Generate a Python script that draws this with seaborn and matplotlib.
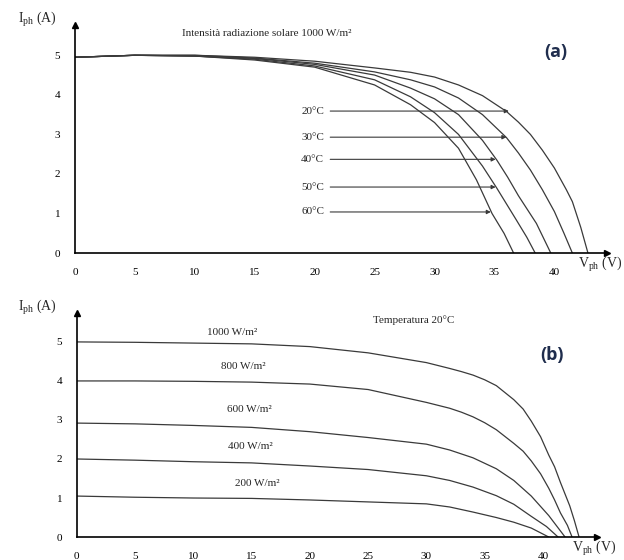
import numpy as np
import pandas as pd
import seaborn as sns
import matplotlib.pyplot as plt

# Panel (a): I-V curves at 1000 W/m2 for different temperatures
temp_labels = ["20°C", "30°C", "40°C", "50°C", "60°C"]
v_20 = [0, 5, 10, 15, 20, 25, 28, 30, 32, 34, 36, 37, 38, 39, 40, 41, 41.5, 42.2, 42.8]
i_20 = [4.95, 5.0, 5.0, 4.95, 4.85, 4.68, 4.57, 4.45, 4.25, 3.98, 3.58, 3.31, 3.0, 2.6, 2.15, 1.6, 1.3, 0.65, 0]
v_30 = [0, 5, 10, 15, 20, 25, 28, 30, 32, 34, 36, 37, 38, 39, 40, 40.8, 41.5]
i_30 = [4.95, 5.0, 5.0, 4.93, 4.8, 4.58, 4.38, 4.2, 3.92, 3.5, 2.92, 2.53, 2.1, 1.6, 1.05, 0.5, 0]
v_40 = [0, 5, 10, 15, 20, 25, 28, 30, 32, 34, 35.2, 36.1, 37, 38.5, 39.7]
i_40 = [4.95, 5.0, 4.98, 4.92, 4.77, 4.5, 4.17, 3.9, 3.5, 2.85, 2.35, 1.92, 1.45, 0.75, 0]
v_50 = [0, 5, 10, 15, 20, 25, 28, 30, 32, 34, 35.2, 36.8, 37.7, 38.4]
i_50 = [4.95, 5.0, 4.98, 4.9, 4.73, 4.38, 3.95, 3.55, 3.0, 2.2, 1.64, 0.85, 0.4, 0]
v_60 = [0, 5, 10, 15, 20, 25, 28, 30, 32, 33.5, 34.8, 35.8, 36.6]
i_60 = [4.95, 5.0, 4.98, 4.88, 4.7, 4.25, 3.75, 3.3, 2.65, 1.85, 1.0, 0.5, 0]
temp_label_i = [3.59, 2.93, 2.37, 1.67, 1.04]
temp_arrow_v = [36.2, 36.0, 35.1, 35.1, 34.7]

# Panel (b): I-V curves at 20°C for different irradiance
irr_labels = ["1000 W/m²", "800 W/m²", "600 W/m²", "400 W/m²", "200 W/m²"]
v_1000 = [0, 5, 10, 15, 20, 25, 30, 32, 33, 34, 35, 36, 37.5, 38.3, 39, 39.8, 40.5, 41, 41.5, 42.3, 42.7, 43.1]
i_1000 = [5.0, 4.99, 4.97, 4.95, 4.88, 4.72, 4.47, 4.32, 4.24, 4.15, 4.03, 3.88, 3.52, 3.28, 2.97, 2.57, 2.1, 1.8, 1.4, 0.8, 0.42, 0]
v_800 = [0, 5, 10, 15, 20, 25, 30, 32, 33, 34, 35, 36, 37.5, 38.3, 39, 39.8, 40.5, 41, 41.5, 42.1, 42.5]
i_800 = [4.0, 4.0, 3.99, 3.97, 3.92, 3.78, 3.45, 3.3, 3.2, 3.08, 2.93, 2.75, 2.4, 2.2, 1.95, 1.62, 1.25, 0.95, 0.62, 0.3, 0]
v_600 = [0, 5, 10, 15, 20, 25, 30, 32, 34, 36, 37.5, 39, 40.5, 41.9]
i_600 = [2.92, 2.9, 2.86, 2.81, 2.7, 2.55, 2.38, 2.23, 2.03, 1.75, 1.45, 1.05, 0.55, 0]
v_400 = [0, 5, 10, 15, 20, 25, 30, 32, 34, 36, 37.5, 39, 40.3, 41.3]
i_400 = [2.0, 1.97, 1.93, 1.9, 1.82, 1.73, 1.57, 1.45, 1.28, 1.06, 0.84, 0.53, 0.27, 0]
v_200 = [0, 5, 10, 15, 20, 25, 30, 32, 34, 36, 37.5, 39, 40.5]
i_200 = [1.05, 1.02, 1.0, 0.99, 0.95, 0.9, 0.85, 0.77, 0.64, 0.5, 0.38, 0.23, 0]
irr_label_v = [13.3, 14.3, 14.8, 14.9, 15.5]
irr_label_i = [5.23, 4.38, 3.26, 2.31, 1.36]

x_ticks = [0, 5, 10, 15, 20, 25, 30, 35, 40]
y_ticks = [0, 1, 2, 3, 4, 5]

sns.set_style("white")
plt.rcParams.update({
    'font.family': ['Liberation Serif', 'DejaVu Serif'],
    'mathtext.fontset': 'custom',
    'mathtext.rm': 'Liberation Serif',
    'mathtext.it': 'Liberation Serif',
    'axes.edgecolor': 'black',
    'axes.linewidth': 1.2,
})

curve_color = "#3a3a3a"
badge_color = "#1f2d4d"

fig = plt.figure(figsize=(6.24, 5.6), dpi=100)
ax_a = fig.add_axes([0.120, 0.548, 0.853, 0.407])
ax_b = fig.add_axes([0.123, 0.041, 0.833, 0.400])


def style_axis(ax, xmax, ymax):
    ax.set_xlim(0, xmax)
    ax.set_ylim(0, ymax)
    sns.despine(ax=ax)
    ax.set_xticks(x_ticks)
    ax.set_yticks(y_ticks)
    ax.tick_params(direction='inout', length=9, width=1, labelsize=8, pad=6, colors='black')
    ax.set_xlabel("")
    ax.set_ylabel("")
    # arrow heads at the axis ends
    ax.plot(1, 0, ">", color="black", ms=4, transform=ax.transAxes, clip_on=False)
    ax.plot(0, 1, "^", color="black", ms=4, transform=ax.transAxes, clip_on=False)


# Panel (a)
df_a = pd.DataFrame({
    "V": v_20 + v_30 + v_40 + v_50 + v_60,
    "I": i_20 + i_30 + i_40 + i_50 + i_60,
    "T": sum([[t] * len(v) for t, v in zip(temp_labels, [v_20, v_30, v_40, v_50, v_60])], []),
})
sns.lineplot(data=df_a, x="V", y="I", units="T", estimator=None, color=curve_color,
             lw=0.9, ax=ax_a)
style_axis(ax_a, 44.4, 5.76)

for lab, yi, xv in zip(temp_labels, temp_label_i, temp_arrow_v):
    ax_a.text(20.8, yi, lab, ha="right", va="center", fontsize=8)
    ax_a.annotate("", xy=(xv, yi), xytext=(21.3, yi),
                  arrowprops=dict(arrowstyle="-|>", color=curve_color, lw=0.8,
                                  mutation_scale=6, shrinkA=0, shrinkB=0))

ax_a.text(16.0, 5.56, "Intensità radiazione solare 1000 W/m²", ha="center", va="center", fontsize=8)
ax_a.text(40.1, 5.08, "(a)", ha="center", va="center", fontsize=13, fontweight="bold",
          color=badge_color, family=["Open Sans", "DejaVu Sans"])

# Panel (b)
df_b = pd.DataFrame({
    "V": v_1000 + v_800 + v_600 + v_400 + v_200,
    "I": i_1000 + i_800 + i_600 + i_400 + i_200,
    "G": sum([[g] * len(v) for g, v in zip(irr_labels, [v_1000, v_800, v_600, v_400, v_200])], []),
})
sns.lineplot(data=df_b, x="V", y="I", units="G", estimator=None, color=curve_color,
             lw=0.9, ax=ax_b)
style_axis(ax_b, 44.6, 5.74)

for lab, xv, yi in zip(irr_labels, irr_label_v, irr_label_i):
    ax_b.text(xv, yi, lab, ha="center", va="center", fontsize=8)

ax_b.text(28.9, 5.56, "Temperatura 20°C", ha="center", va="center", fontsize=8)
ax_b.text(40.8, 4.67, "(b)", ha="center", va="center", fontsize=13, fontweight="bold",
          color=badge_color, family=["Open Sans", "DejaVu Sans"])

# axis titles
for y_px_i, y_px_v, x_px_v in [(20, 265, 600), (307, 548, 594)]:
    fig.text(37 / 624, 1 - y_px_i / 560, r"I$_{\rm ph}$ (A)", ha="center", va="center", fontsize=10)
    fig.text(x_px_v / 624, 1 - y_px_v / 560, r"V$_{\rm ph}$ (V)", ha="center", va="center", fontsize=10)

fig.savefig("out.png", dpi=100)
plt.close(fig)
